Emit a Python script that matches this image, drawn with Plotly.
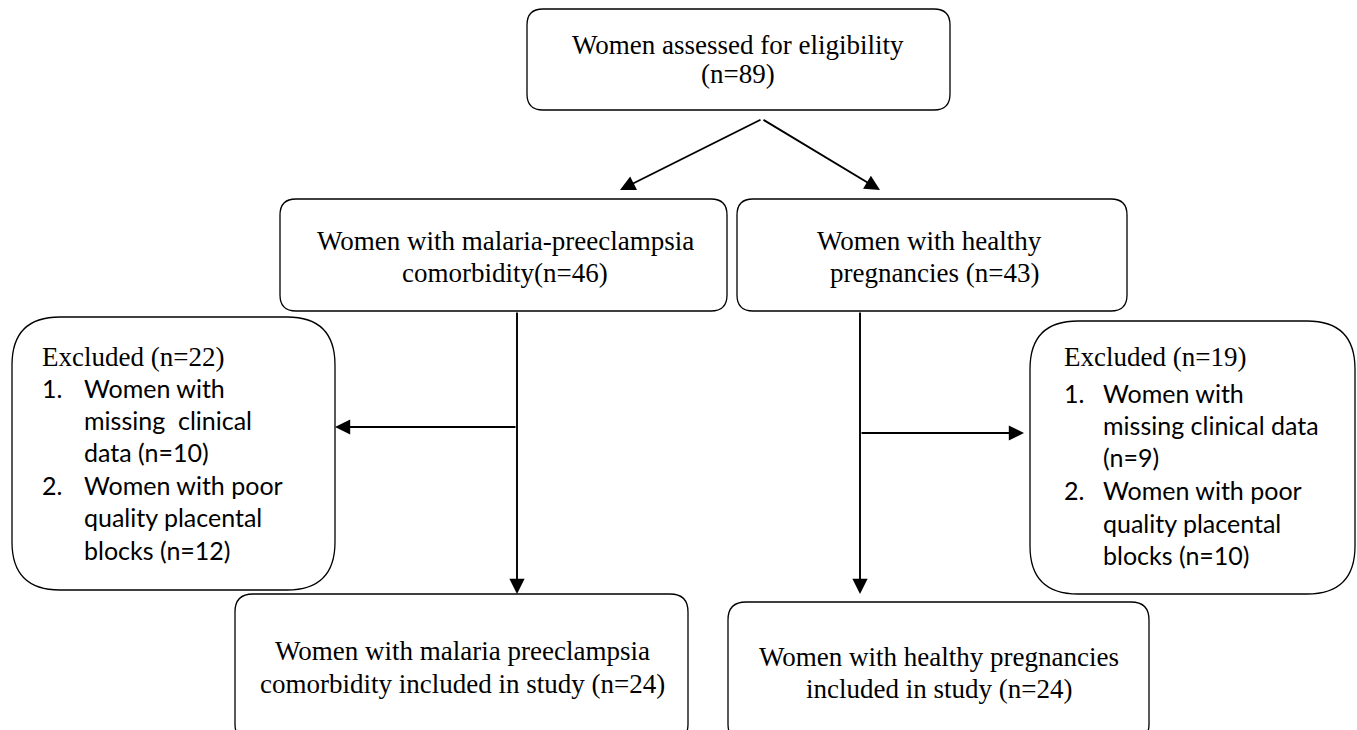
import plotly.graph_objects as go

W, H = 1357, 730

# Participant counts
assessed = [89]
group_names = ["malaria-preeclampsia", "healthy"]
group_totals = [46, 43]
excluded_totals = [22, 19]
excluded_missing = [10, 9]
excluded_poor = [12, 10]
included = [24, 24]

SERIF = "Liberation Serif, Times New Roman, Times, serif"
SANS = "Lato, Carlito, Calibri, sans-serif"
FS = 27
FS2 = 25

fig = go.Figure()

def rbox(x0, y0, x1, y1, r):
    p = (f"M {x0+r},{y0} L {x1-r},{y0} Q {x1},{y0} {x1},{y0+r} "
         f"L {x1},{y1-r} Q {x1},{y1} {x1-r},{y1} L {x0+r},{y1} "
         f"Q {x0},{y1} {x0},{y1-r} L {x0},{y0+r} Q {x0},{y0} {x0+r},{y0} Z")
    fig.add_shape(type="path", path=p, xref="x", yref="y",
                  line=dict(color="black", width=1.3), fillcolor="white")

rbox(527, 9, 950, 110, 16)
rbox(280, 199, 727, 311, 16)
rbox(737, 199, 1127, 311, 16)
rbox(12, 317, 335, 590, 48)
rbox(1030, 321, 1355, 594, 48)
rbox(235, 594, 688, 742, 18)
rbox(728, 602, 1149, 742, 18)

def txt(x, y, s, font=SERIF, size=FS, anchor="center"):
    fig.add_annotation(x=x, y=y, text=s, showarrow=False, xref="x", yref="y",
                       xanchor=anchor, yanchor="middle",
                       font=dict(family=font, size=size, color="black"))

def arrow(x0, y0, x1, y1):
    fig.add_annotation(x=x1, y=y1, ax=x0, ay=y0, xref="x", yref="y",
                       axref="x", ayref="y", text="", showarrow=True,
                       arrowhead=2, arrowsize=1.6, arrowwidth=1.9,
                       arrowcolor="black", standoff=0, startstandoff=0)

# Top box text
txt(738, 45, "Women assessed for eligibility")
txt(738, 74, f"(n={assessed[0]})")

# Middle boxes
txt(505, 241, f"Women with {group_names[0]}")
txt(505, 273, f"comorbidity(n={group_totals[0]})")
txt(929, 241, f"Women with {group_names[1]}")
txt(934, 273, f"pregnancies (n={group_totals[1]})")

# Bottom boxes
txt(462, 651, "Women with malaria preeclampsia")
txt(462, 684, f"comorbidity included in study (n={included[0]})")
txt(939, 657, "Women with healthy pregnancies")
txt(939, 689, f"included in study (n={included[1]})")

# Excluded left
txt(40, 357, f"Excluded (n={excluded_totals[0]})", anchor="left")
txt(40, 388, "1.", SANS, FS2, "left")
txt(82, 388, "Women with", SANS, FS2, "left")
txt(82, 420, "missing  clinical", SANS, FS2, "left")
txt(82, 452, f"data (n={excluded_missing[0]})", SANS, FS2, "left")
txt(40, 485, "2.", SANS, FS2, "left")
txt(82, 485, "Women with poor", SANS, FS2, "left")
txt(82, 517, "quality placental", SANS, FS2, "left")
txt(82, 550, f"blocks (n={excluded_poor[0]})", SANS, FS2, "left")

# Excluded right
txt(1062, 357, f"Excluded (n={excluded_totals[1]})", anchor="left")
txt(1062, 393, "1.", SANS, FS2, "left")
txt(1101, 393, "Women with", SANS, FS2, "left")
txt(1101, 425, "missing clinical data", SANS, FS2, "left")
txt(1101, 457, f"(n={excluded_missing[1]})", SANS, FS2, "left")
txt(1062, 490, "2.", SANS, FS2, "left")
txt(1101, 490, "Women with poor", SANS, FS2, "left")
txt(1101, 523, "quality placental", SANS, FS2, "left")
txt(1101, 555, f"blocks (n={excluded_poor[1]})", SANS, FS2, "left")

# Arrows
arrow(762, 119, 620, 190)
arrow(762, 119, 880, 190)
arrow(517, 311, 517, 594)
arrow(517, 427, 335, 427)
arrow(860, 311, 860, 594)
arrow(860, 433, 1024, 433)

fig.update_xaxes(range=[0, W], visible=False, fixedrange=True)
fig.update_yaxes(range=[H, 0], visible=False, fixedrange=True)
fig.update_layout(width=W, height=H, margin=dict(l=0, r=0, t=0, b=0),
                  plot_bgcolor="white", paper_bgcolor="white", showlegend=False)

fig.write_html("out.html", config={"displayModeBar": False},
               post_script="document.body.style.margin='0';document.body.style.overflow='hidden';")
